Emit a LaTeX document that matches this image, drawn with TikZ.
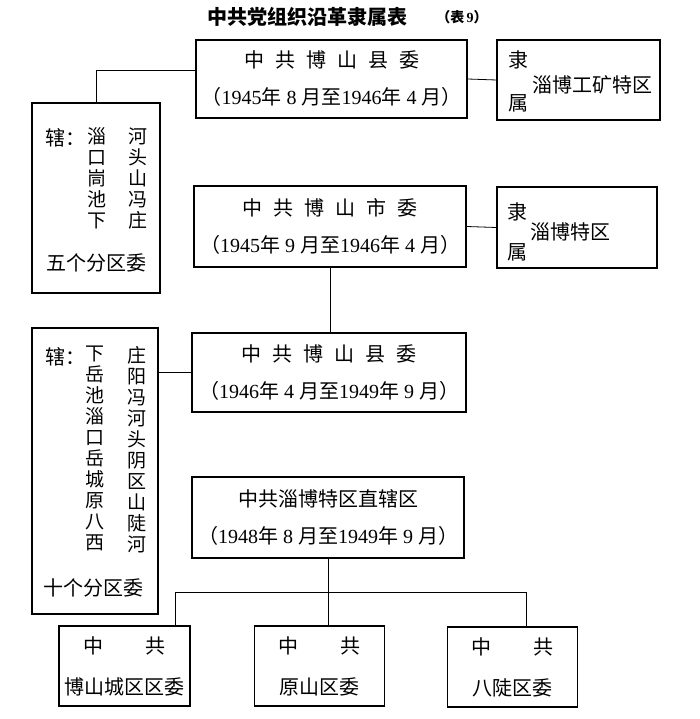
\documentclass[tikz,border=0pt]{standalone}
\usepackage{fontspec}
\setmainfont{Liberation Serif}
\newfontfamily\cjk{Noto Sans CJK SC}
\newcommand\yr[1]{{\rmfamily #1}}
\newcommand\zsp{\hspace{11pt}}

\begin{document}
\begin{tikzpicture}[x=1pt, y=-1pt,
    box/.style={draw, line width=1.2pt, inner sep=0pt},
    link/.style={line width=0.8pt},
    zh/.style={font=\cjk\fontsize{20}{37}\selectfont, inner sep=0pt, align=center},
    column/.style={font=\cjk\fontsize{19}{21}\selectfont, inner sep=0pt, align=center, anchor=north},
    unit/.style={box, zh, font=\cjk\fontsize{20}{41}\selectfont, minimum width=130, minimum height=80}]
    \useasboundingbox (0,0) rectangle (700,719);

    % title
    \node[zh, font=\cjk\bfseries\fontsize{20}{20}\selectfont] (title) at (307,17) {中共党组织沿革隶属表};
    \node[zh, font=\cjk\bfseries\fontsize{14}{14}\selectfont] (tab) at (462,17) {（表\,\yr{\bfseries 9}）};

    % 1945
    \node[box, zh, minimum width=271, minimum height=78] (A) at (331.5,79)
        {中\zsp 共\zsp 博\zsp 山\zsp 县\zsp 委\\（\yr{1945}年\yr{ 8 }月至\yr{1946}年\yr{ 4 }月）};
    \node[box, minimum width=163, minimum height=80] (Ar) at (578.5,80) {};
    \node[zh] (ArLi) at (518,60) {隶};
    \node[zh] (ArShu) at (518,103) {属};
    \node[zh] (ArName) at (592,85) {淄博工矿特区};

    \node[box, minimum width=128, minimum height=190] (L1) at (96,198) {};
    \node[zh, anchor=west] (L1xia) at (45,138) {辖：};
    \node[column] (L1a) at (97,127.5) {淄\\口\\峝\\池\\下};
    \node[column] (L1b) at (138,127.5) {河\\头\\山\\冯\\庄};
    \node[zh] (L1sum) at (96,263) {五个分区委};

    \node[box, zh, minimum width=272, minimum height=81] (B) at (330,226.5)
        {中\zsp 共\zsp 博\zsp 山\zsp 市\zsp 委\\（\yr{1945}年\yr{ 9 }月至\yr{1946}年\yr{ 4 }月）};
    \node[box, minimum width=160, minimum height=81] (Br) at (577,227.5) {};
    \node[zh] (BrLi) at (517,212) {隶};
    \node[zh] (BrShu) at (517,252) {属};
    \node[zh] (BrName) at (570,232) {淄博特区};

    % 1946 -- 1949
    \node[box, zh, minimum width=274, minimum height=79] (C) at (329,372.5)
        {中\zsp 共\zsp 博\zsp 山\zsp 县\zsp 委\\（\yr{1946}年\yr{ 4 }月至\yr{1949}年\yr{ 9 }月）};
    \node[box, minimum width=126, minimum height=286] (L2) at (95,471) {};
    \node[zh, anchor=west] (L2xia) at (45,357) {辖：};
    \node[column] (L2a) at (95,346) {下\\岳\\池\\淄\\口\\岳\\城\\原\\八\\西};
    \node[column] (L2b) at (137,346) {庄\\阳\\冯\\河\\头\\阴\\区\\山\\陡\\河};
    \node[zh] (L2sum) at (93,588) {十个分区委};

    \node[box, zh, minimum width=272, minimum height=81] (D) at (328,517.5)
        {中共淄博特区直辖区\\（\yr{1948}年\yr{ 8 }月至\yr{1949}年\yr{ 9 }月）};

    \node[unit, minimum width=131] (E) at (124.5,666) {中\hspace{42pt}共\\博山城区区委};
    \node[unit] (F) at (319.5,666) {中\hspace{42pt}共\\原山区委};
    \node[unit] (G) at (512.5,667) {中\hspace{42pt}共\\八陡区委};

    % connectors
    \draw[link] ([yshift=9pt]A.west) -| (L1.north);
    \draw[link] (A.east) -- (Ar.west);
    \draw[link] (B.east) -- (Br.west);
    \draw[link] (B.south) -- (B.south |- C.north);
    \draw[link] (L2.east |- C.west) -- (C.west);
    \draw[link] (D.south) -- (D.south |- F.north);
    \coordinate (busL) at (175,592);
    \coordinate (busR) at (526,592);
    \draw[link] (E.north -| busL) |- (busR) -- (G.north -| busR);
\end{tikzpicture}
\end{document}
